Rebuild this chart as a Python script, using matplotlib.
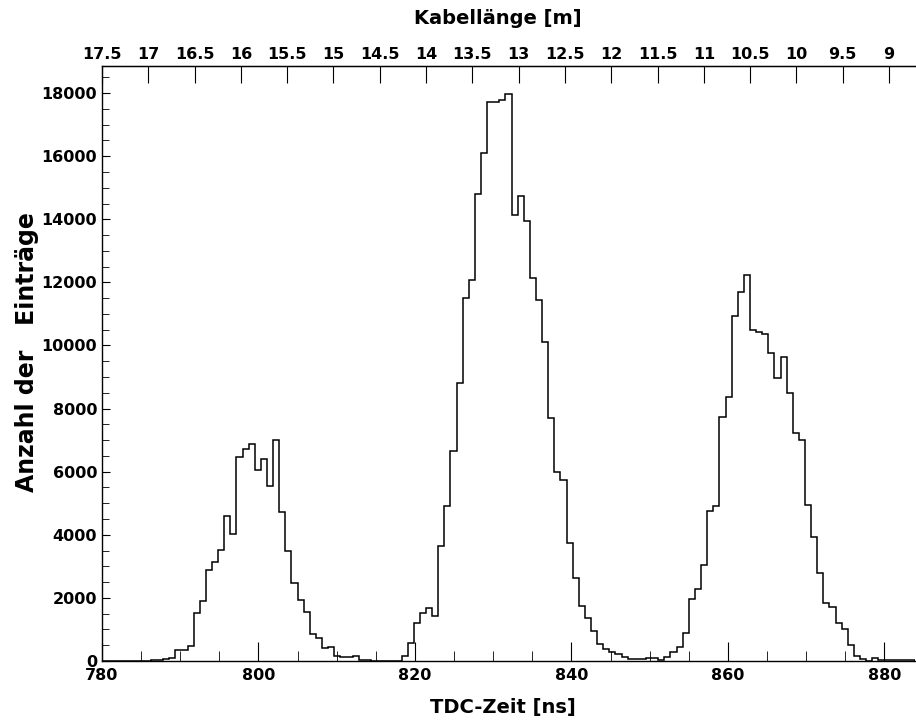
import numpy as np
import matplotlib.pyplot as plt
import matplotlib.transforms as mtransforms
from matplotlib.ticker import MultipleLocator, FixedLocator, FormatStrFormatter, NullLocator

plt.rcParams['font.family'] = ['DejaVu Sans']
plt.rcParams['font.weight'] = 'bold'

# TDC histogram: 133 bins of 25/32 ns starting at 780 ns
t_start = 780.0
bin_width = 25.0 / 32
counts = [
    0, 0, 0, 0, 0, 0, 0, 0, 30, 30,
    50, 90, 340, 340, 490, 1530, 1900, 2880, 3140, 3520,
    4600, 4020, 6460, 6730, 6870, 6050, 6410, 5550, 7000, 4730,
    3480, 2470, 1940, 1560, 840, 740, 400, 440, 160, 120,
    120, 150, 30, 30, 0, 0, 0, 0, 0, 150,
    585, 1210, 1520, 1690, 1430, 3630, 4900, 6640, 8800, 11500,
    12070, 14800, 16100, 17730, 17730, 17790, 17960, 14140, 14730, 13960,
    12140, 11440, 10100, 7690, 5990, 5740, 3740, 2620, 1730, 1360,
    950, 540, 380, 300, 210, 140, 70, 50, 50, 100,
    100, 40, 116, 285, 455, 877, 1955, 2283, 3044, 4767,
    4926, 7748, 8382, 10940, 11690, 12230, 10485, 10422, 10359, 9777,
    8963, 9630, 8509, 7219, 7008, 4947, 3921, 2780, 1829, 1702,
    1216, 1004, 507, 169, 53, 0, 106, 30, 30, 30,
    30, 30, 30,
]
edges = t_start + bin_width * np.arange(len(counts) + 1)

# cable length on the top axis
cable_at_start = 17.5
cable_per_ns = 0.0845
cable_ticks = [17.5, 17, 16.5, 16, 15.5, 15, 14.5, 14, 13.5, 13, 12.5,
               12, 11.5, 11, 10.5, 10, 9.5, 9]


def ns_to_m(t):
    return cable_at_start - (np.asarray(t) - t_start) * cable_per_ns


def m_to_ns(l):
    return t_start + (cable_at_start - np.asarray(l)) / cable_per_ns


fig = plt.figure(figsize=(9.16, 7.24), dpi=100)
ax = fig.add_axes([102 / 916, 1 - 661 / 724, 813 / 916, 595 / 724])

ax.stairs(counts, edges, color='black', lw=1.1)
ax.set_xlim(edges[0], edges[-1])
ax.set_ylim(0, max(counts) * 1.05)

ax.spines['right'].set_visible(False)
for s in ['left', 'bottom', 'top']:
    ax.spines[s].set_linewidth(1.0)

ax.xaxis.set_major_locator(MultipleLocator(20))
ax.xaxis.set_minor_locator(MultipleLocator(5))
ax.yaxis.set_major_locator(MultipleLocator(2000))
ax.yaxis.set_minor_locator(MultipleLocator(500))
ax.tick_params(which='both', direction='in', top=False, right=False, labelsize=11.5)
ax.tick_params(axis='x', which='major', length=13.5, pad=5)
ax.tick_params(axis='x', which='minor', length=7)
ax.tick_params(axis='y', which='major', length=6, pad=3.5)
ax.tick_params(axis='y', which='minor', length=5)

# the "0" label sits a little above the axis, like in the original
fig.canvas.draw()
ylab0 = ax.get_yticklabels()[0]
ylab0.set_transform(ylab0.get_transform() +
                    mtransforms.ScaledTranslation(0, 5 / 100, fig.dpi_scale_trans))

sec = ax.secondary_xaxis('top', functions=(ns_to_m, m_to_ns))
sec.xaxis.set_major_locator(FixedLocator(cable_ticks))
sec.xaxis.set_minor_locator(NullLocator())
sec.xaxis.set_major_formatter(FormatStrFormatter('%g'))
sec.tick_params(direction='in', length=12, pad=3, labelsize=11.5)

fig.text(498 / 916, 1 - 18 / 724, 'Kabellänge [m]', ha='center', va='center',
         fontsize=14, fontweight='bold')
fig.text(503 / 916, 1 - 708 / 724, 'TDC-Zeit [ns]', ha='center', va='center',
         fontsize=14, fontweight='bold')
fig.text(27 / 916, 1 - 352 / 724, 'Anzahl der   Einträge', ha='center', va='center',
         rotation=90, fontsize=17, fontweight='bold')

fig.savefig('out.png', dpi=100)
